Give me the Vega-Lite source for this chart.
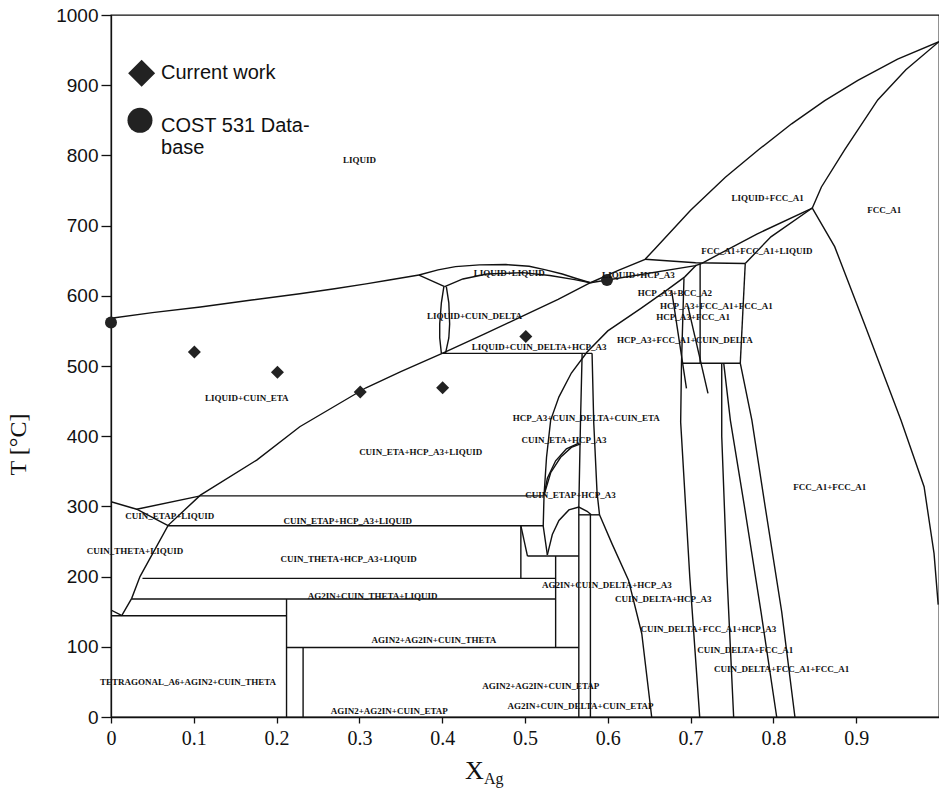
{
  "$schema": "https://vega.github.io/schema/vega-lite/v6.json",
  "width": 828,
  "height": 702,
  "autosize": {"type": "none"},
  "padding": {"left": 111, "top": 15, "right": 0, "bottom": 73},
  "background": "white",
  "config": {"view": {"stroke": "#111", "strokeWidth": 1.3}},
  "datasets": {
    "lines": [
      {"s":1,"o":0,"x":0,"t":568},{"s":1,"o":1,"x":0.05,"t":576},{"s":1,"o":2,"x":0.108,"t":584},{"s":1,"o":3,"x":0.17,"t":594},{"s":1,"o":4,"x":0.228,"t":603},{"s":1,"o":5,"x":0.27,"t":610},{"s":1,"o":6,"x":0.308,"t":617},{"s":1,"o":7,"x":0.336,"t":622.5},{"s":1,"o":8,"x":0.372,"t":629.6},
      {"s":2,"o":0,"x":0.372,"t":629.6},{"s":2,"o":1,"x":0.395,"t":637},{"s":2,"o":2,"x":0.416,"t":641.5},{"s":2,"o":3,"x":0.445,"t":644},{"s":2,"o":4,"x":0.477,"t":644.5},{"s":2,"o":5,"x":0.505,"t":642},{"s":2,"o":6,"x":0.525,"t":637},{"s":2,"o":7,"x":0.545,"t":631},{"s":2,"o":8,"x":0.561,"t":625},{"s":2,"o":9,"x":0.579,"t":618.6},
      {"s":3,"o":0,"x":0.372,"t":629.6},{"s":3,"o":1,"x":0.403,"t":613},
      {"s":4,"o":0,"x":0.403,"t":613},{"s":4,"o":1,"x":0.425,"t":624},{"s":4,"o":2,"x":0.454,"t":631},{"s":4,"o":3,"x":0.497,"t":633},{"s":4,"o":4,"x":0.53,"t":629},{"s":4,"o":5,"x":0.56,"t":623},{"s":4,"o":6,"x":0.579,"t":618.6},
      {"s":5,"o":0,"x":0.402,"t":613},{"s":5,"o":1,"x":0.399,"t":590},{"s":5,"o":2,"x":0.397,"t":560},{"s":5,"o":3,"x":0.397,"t":540},{"s":5,"o":4,"x":0.399,"t":518},
      {"s":6,"o":0,"x":0.405,"t":613},{"s":6,"o":1,"x":0.408,"t":590},{"s":6,"o":2,"x":0.409,"t":560},{"s":6,"o":3,"x":0.408,"t":540},{"s":6,"o":4,"x":0.404,"t":518},
      {"s":7,"o":0,"x":0.4,"t":518},{"s":7,"o":1,"x":0.45,"t":545},{"s":7,"o":2,"x":0.497,"t":571},{"s":7,"o":3,"x":0.54,"t":595},{"s":7,"o":4,"x":0.579,"t":618.6},
      {"s":8,"o":0,"x":0.4,"t":518},{"s":8,"o":1,"x":0.581,"t":518},
      {"s":9,"o":0,"x":0.4,"t":518},{"s":9,"o":1,"x":0.35,"t":492},{"s":9,"o":2,"x":0.308,"t":469},{"s":9,"o":3,"x":0.228,"t":413.5},{"s":9,"o":4,"x":0.176,"t":366},{"s":9,"o":5,"x":0.108,"t":316},{"s":9,"o":6,"x":0.069,"t":273},{"s":9,"o":7,"x":0.035,"t":200},{"s":9,"o":8,"x":0.025,"t":169},{"s":9,"o":9,"x":0.0133,"t":145},
      {"s":10,"o":0,"x":0.108,"t":315},{"s":10,"o":1,"x":0.523,"t":315},
      {"s":11,"o":0,"x":0.069,"t":272.5},{"s":11,"o":1,"x":0.522,"t":272.5},
      {"s":12,"o":0,"x":0,"t":306.7},{"s":12,"o":1,"x":0.031,"t":296},{"s":12,"o":2,"x":0.069,"t":272.5},
      {"s":13,"o":0,"x":0.031,"t":296},{"s":13,"o":1,"x":0.108,"t":315},
      {"s":14,"o":0,"x":0.038,"t":197.5},{"s":14,"o":1,"x":0.537,"t":197.5},
      {"s":15,"o":0,"x":0.025,"t":168},{"s":15,"o":1,"x":0.537,"t":168},
      {"s":16,"o":0,"x":0.495,"t":272.5},{"s":16,"o":1,"x":0.495,"t":197.5},
      {"s":17,"o":0,"x":0.495,"t":272.5},{"s":17,"o":1,"x":0.503,"t":229.3},
      {"s":18,"o":0,"x":0.503,"t":229.3},{"s":18,"o":1,"x":0.565,"t":229.3},
      {"s":19,"o":0,"x":0.537,"t":229.3},{"s":19,"o":1,"x":0.537,"t":99},
      {"s":20,"o":0,"x":0,"t":152.4},{"s":20,"o":1,"x":0.0133,"t":144.3},
      {"s":21,"o":0,"x":0,"t":144.3},{"s":21,"o":1,"x":0.212,"t":144.3},
      {"s":22,"o":0,"x":0.212,"t":0},{"s":22,"o":1,"x":0.212,"t":168},
      {"s":23,"o":0,"x":0.212,"t":99},{"s":23,"o":1,"x":0.565,"t":99},
      {"s":24,"o":0,"x":0.232,"t":0},{"s":24,"o":1,"x":0.232,"t":99},
      {"s":25,"o":0,"x":0.569,"t":518},{"s":25,"o":1,"x":0.567,"t":420},{"s":25,"o":2,"x":0.565,"t":300},{"s":25,"o":3,"x":0.565,"t":0},
      {"s":26,"o":0,"x":0.581,"t":518},{"s":26,"o":1,"x":0.583,"t":420},{"s":26,"o":2,"x":0.587,"t":320},{"s":26,"o":3,"x":0.59,"t":288},
      {"s":27,"o":0,"x":0.579,"t":288},{"s":27,"o":1,"x":0.579,"t":0},
      {"s":28,"o":0,"x":0.565,"t":288},{"s":28,"o":1,"x":0.59,"t":288},
      {"s":29,"o":0,"x":0.59,"t":288},{"s":29,"o":1,"x":0.605,"t":247},{"s":29,"o":2,"x":0.625,"t":195},{"s":29,"o":3,"x":0.641,"t":119},{"s":29,"o":4,"x":0.653,"t":0},
      {"s":30,"o":0,"x":0.527,"t":231},{"s":30,"o":1,"x":0.533,"t":260},{"s":30,"o":2,"x":0.541,"t":280},{"s":30,"o":3,"x":0.553,"t":295},{"s":30,"o":4,"x":0.565,"t":299},{"s":30,"o":5,"x":0.575,"t":293},{"s":30,"o":6,"x":0.58,"t":288},
      {"s":31,"o":0,"x":0.523,"t":316},{"s":31,"o":1,"x":0.527,"t":340},{"s":31,"o":2,"x":0.537,"t":365},{"s":31,"o":3,"x":0.55,"t":382},{"s":31,"o":4,"x":0.565,"t":390},
      {"s":32,"o":0,"x":0.523,"t":316},{"s":32,"o":1,"x":0.531,"t":348},{"s":32,"o":2,"x":0.543,"t":370},{"s":32,"o":3,"x":0.556,"t":384},{"s":32,"o":4,"x":0.567,"t":389},
      {"s":33,"o":0,"x":0.527,"t":231},{"s":33,"o":1,"x":0.522,"t":272},{"s":33,"o":2,"x":0.523,"t":316},{"s":33,"o":3,"x":0.526,"t":370},{"s":33,"o":4,"x":0.531,"t":423},{"s":33,"o":5,"x":0.541,"t":456},{"s":33,"o":6,"x":0.556,"t":490},{"s":33,"o":7,"x":0.575,"t":520},{"s":33,"o":8,"x":0.6,"t":550},{"s":33,"o":9,"x":0.64,"t":582},{"s":33,"o":10,"x":0.67,"t":607},{"s":33,"o":11,"x":0.693,"t":627},{"s":33,"o":12,"x":0.707,"t":644},
      {"s":34,"o":0,"x":0.579,"t":618.6},{"s":34,"o":1,"x":0.612,"t":636},{"s":34,"o":2,"x":0.645,"t":652},{"s":34,"o":3,"x":0.657,"t":667},{"s":34,"o":4,"x":0.7,"t":722},{"s":34,"o":5,"x":0.742,"t":769},{"s":34,"o":6,"x":0.782,"t":808},{"s":34,"o":7,"x":0.822,"t":845},{"s":34,"o":8,"x":0.862,"t":878},{"s":34,"o":9,"x":0.902,"t":907},{"s":34,"o":10,"x":0.95,"t":937},{"s":34,"o":11,"x":1.0,"t":962},
      {"s":35,"o":0,"x":1.0,"t":962},{"s":35,"o":1,"x":0.96,"t":922},{"s":35,"o":2,"x":0.926,"t":879},{"s":35,"o":3,"x":0.886,"t":808},{"s":35,"o":4,"x":0.858,"t":755},{"s":35,"o":5,"x":0.847,"t":725},
      {"s":36,"o":0,"x":0.847,"t":725},{"s":36,"o":1,"x":0.874,"t":670},{"s":36,"o":2,"x":0.91,"t":560},{"s":36,"o":3,"x":0.954,"t":423},{"s":36,"o":4,"x":0.982,"t":328},{"s":36,"o":5,"x":0.994,"t":233},{"s":36,"o":6,"x":0.999,"t":160},
      {"s":37,"o":0,"x":0.847,"t":725},{"s":37,"o":1,"x":0.78,"t":688},{"s":37,"o":2,"x":0.713,"t":646},
      {"s":38,"o":0,"x":0.847,"t":725},{"s":38,"o":1,"x":0.797,"t":684},{"s":38,"o":2,"x":0.766,"t":646},
      {"s":39,"o":0,"x":0.645,"t":652},{"s":39,"o":1,"x":0.706,"t":647},{"s":39,"o":2,"x":0.766,"t":646},
      {"s":40,"o":0,"x":0.579,"t":618.6},{"s":40,"o":1,"x":0.706,"t":643},{"s":40,"o":2,"x":0.713,"t":646},
      {"s":41,"o":0,"x":0.766,"t":646},{"s":41,"o":1,"x":0.76,"t":504},
      {"s":42,"o":0,"x":0.7115,"t":646},{"s":42,"o":1,"x":0.7115,"t":504},
      {"s":43,"o":0,"x":0.689,"t":504},{"s":43,"o":1,"x":0.76,"t":504},
      {"s":44,"o":0,"x":0.692,"t":625},{"s":44,"o":1,"x":0.689,"t":504},{"s":44,"o":2,"x":0.688,"t":420},{"s":44,"o":3,"x":0.699,"t":200},{"s":44,"o":4,"x":0.711,"t":0},
      {"s":45,"o":0,"x":0.677,"t":608},{"s":45,"o":1,"x":0.695,"t":468},
      {"s":46,"o":0,"x":0.697,"t":584},{"s":46,"o":1,"x":0.721,"t":461},
      {"s":47,"o":0,"x":0.7376,"t":504},{"s":47,"o":1,"x":0.7376,"t":400},{"s":47,"o":2,"x":0.744,"t":200},{"s":47,"o":3,"x":0.752,"t":0},
      {"s":48,"o":0,"x":0.74,"t":504},{"s":48,"o":1,"x":0.748,"t":423},{"s":48,"o":2,"x":0.765,"t":300},{"s":48,"o":3,"x":0.785,"t":150},{"s":48,"o":4,"x":0.804,"t":0},
      {"s":49,"o":0,"x":0.76,"t":504},{"s":49,"o":1,"x":0.774,"t":423},{"s":49,"o":2,"x":0.79,"t":300},{"s":49,"o":3,"x":0.81,"t":150},{"s":49,"o":4,"x":0.826,"t":0}
    ],
    "current": [
      {"x":0.1007,"t":520},{"x":0.201,"t":491},{"x":0.301,"t":463},{"x":0.4005,"t":469},{"x":0.501,"t":542}
    ],
    "cost": [
      {"x":0,"t":562},{"x":0.599,"t":622.5}
    ],
    "legendDiamond": [{"x":0.037,"t":917}],
    "legendCircle": [{"x":0.035,"t":850}],
    "legendText": [
      {"x":0.0604,"t":917,"label":"Current work"},
      {"x":0.0604,"t":842,"label":"COST 531 Data-"},
      {"x":0.0604,"t":810,"label":"base"}
    ],
    "phases": [
      {"x":0.3,"t":794,"label":"LIQUID"},
      {"x":0.793,"t":740,"label":"LIQUID+FCC_A1"},
      {"x":0.934,"t":722,"label":"FCC_A1"},
      {"x":0.78,"t":664,"label":"FCC_A1+FCC_A1+LIQUID"},
      {"x":0.481,"t":633,"label":"LIQUID+LIQUID"},
      {"x":0.637,"t":630,"label":"LIQUID+HCP_A3"},
      {"x":0.681,"t":604,"label":"HCP_A3+BCC_A2"},
      {"x":0.731,"t":586,"label":"HCP_A3+FCC_A1+FCC_A1"},
      {"x":0.703,"t":570,"label":"HCP_A3+FCC_A1"},
      {"x":0.439,"t":571,"label":"LIQUID+CUIN_DELTA"},
      {"x":0.693,"t":537,"label":"HCP_A3+FCC_A1+CUIN_DELTA"},
      {"x":0.517,"t":527,"label":"LIQUID+CUIN_DELTA+HCP_A3"},
      {"x":0.164,"t":454,"label":"LIQUID+CUIN_ETA"},
      {"x":0.574,"t":426,"label":"HCP_A3+CUIN_DELTA+CUIN_ETA"},
      {"x":0.547,"t":394,"label":"CUIN_ETA+HCP_A3"},
      {"x":0.374,"t":378,"label":"CUIN_ETA+HCP_A3+LIQUID"},
      {"x":0.868,"t":327,"label":"FCC_A1+FCC_A1"},
      {"x":0.555,"t":316,"label":"CUIN_ETAP+HCP_A3"},
      {"x":0.071,"t":286,"label":"CUIN_ETAP+LIQUID"},
      {"x":0.286,"t":279,"label":"CUIN_ETAP+HCP_A3+LIQUID"},
      {"x":0.029,"t":236,"label":"CUIN_THETA+LIQUID"},
      {"x":0.287,"t":225.5,"label":"CUIN_THETA+HCP_A3+LIQUID"},
      {"x":0.599,"t":188,"label":"AG2IN+CUIN_DELTA+HCP_A3"},
      {"x":0.316,"t":173,"label":"AG2IN+CUIN_THETA+LIQUID"},
      {"x":0.667,"t":168,"label":"CUIN_DELTA+HCP_A3"},
      {"x":0.7215,"t":125,"label":"CUIN_DELTA+FCC_A1+HCP_A3"},
      {"x":0.39,"t":110,"label":"AGIN2+AG2IN+CUIN_THETA"},
      {"x":0.766,"t":95,"label":"CUIN_DELTA+FCC_A1"},
      {"x":0.81,"t":69,"label":"CUIN_DELTA+FCC_A1+FCC_A1"},
      {"x":0.093,"t":50,"label":"TETRAGONAL_A6+AGIN2+CUIN_THETA"},
      {"x":0.519,"t":44,"label":"AGIN2+AG2IN+CUIN_ETAP"},
      {"x":0.567,"t":16,"label":"AG2IN+CUIN_DELTA+CUIN_ETAP"},
      {"x":0.336,"t":9,"label":"AGIN2+AG2IN+CUIN_ETAP"}
    ],
    "xtitle": [{"x":0.4275,"t":-88,"label":"X"}],
    "xsub": [{"x":0.4505,"t":-96,"label":"Ag"}]
  },
  "layer": [
    {
      "data": {"name": "lines"},
      "mark": {"type": "line", "color": "#111", "strokeWidth": 1.4, "clip": true},
      "encoding": {
        "x": {
          "field": "x", "type": "quantitative",
          "scale": {"domain": [0, 1], "nice": false, "zero": false},
          "axis": {
            "title": null, "values": [0, 0.1, 0.2, 0.3, 0.4, 0.5, 0.6, 0.7, 0.8, 0.9],
            "format": ".1~f", "grid": false, "tickSize": 6, "tickWidth": 1.3, "tickColor": "#111", "domainColor": "#111", "domainWidth": 1.3,
            "labelFont": "Liberation Sans Narrow", "labelFontSize": 20, "labelColor": "#111",
            "labelPadding": 5, "labelFlush": false
          }
        },
        "y": {
          "field": "t", "type": "quantitative",
          "scale": {"domain": [0, 1000], "nice": false},
          "axis": {
            "title": "T [°C]", "titleFont": "Liberation Serif", "titleFontSize": 24, "titleFontWeight": "normal",
            "titleColor": "#111", "titleAngle": 270, "titleAlign": "center", "titleBaseline": "middle",
            "titleX": -93, "titleY": 429,
            "values": [0, 100, 200, 300, 400, 500, 600, 700, 800, 900, 1000],
            "format": "d",
            "grid": false, "tickSize": 10, "tickWidth": 1.3, "tickColor": "#111", "domainColor": "#111", "domainWidth": 1.3,
            "labelFont": "Liberation Sans", "labelFontSize": 19, "labelColor": "#111", "labelPadding": 3
          }
        },
        "detail": {"field": "s"},
        "order": {"field": "o"}
      }
    },
    {
      "data": {"name": "current"},
      "mark": {"type": "point", "shape": "diamond", "filled": true, "size": 169, "color": "#222", "opacity": 1, "clip": false},
      "encoding": {"x": {"field": "x", "type": "quantitative"}, "y": {"field": "t", "type": "quantitative"}}
    },
    {
      "data": {"name": "cost"},
      "mark": {"type": "point", "shape": "circle", "filled": true, "size": 144, "color": "#222", "opacity": 1, "clip": false},
      "encoding": {"x": {"field": "x", "type": "quantitative"}, "y": {"field": "t", "type": "quantitative"}}
    },
    {
      "data": {"name": "legendDiamond"},
      "mark": {"type": "point", "shape": "diamond", "filled": true, "size": 729, "color": "#222", "opacity": 1, "clip": false},
      "encoding": {"x": {"field": "x", "type": "quantitative"}, "y": {"field": "t", "type": "quantitative"}}
    },
    {
      "data": {"name": "legendCircle"},
      "mark": {"type": "point", "shape": "circle", "filled": true, "size": 625, "color": "#222", "opacity": 1, "clip": false},
      "encoding": {"x": {"field": "x", "type": "quantitative"}, "y": {"field": "t", "type": "quantitative"}}
    },
    {
      "data": {"name": "legendText"},
      "mark": {"type": "text", "align": "left", "baseline": "middle", "font": "Liberation Sans", "fontSize": 20, "color": "#111"},
      "encoding": {"x": {"field": "x", "type": "quantitative"}, "y": {"field": "t", "type": "quantitative"}, "text": {"field": "label"}}
    },
    {
      "data": {"name": "phases"},
      "mark": {"type": "text", "align": "center", "baseline": "middle", "font": "Liberation Serif", "fontWeight": "bold", "fontSize": 9, "color": "#111"},
      "encoding": {"x": {"field": "x", "type": "quantitative"}, "y": {"field": "t", "type": "quantitative"}, "text": {"field": "label"}}
    },
    {
      "data": {"name": "xtitle"},
      "mark": {"type": "text", "align": "left", "baseline": "alphabetic", "font": "Liberation Serif", "fontSize": 26, "color": "#111"},
      "encoding": {"x": {"field": "x", "type": "quantitative"}, "y": {"field": "t", "type": "quantitative"}, "text": {"field": "label"}}
    },
    {
      "data": {"name": "xsub"},
      "mark": {"type": "text", "align": "left", "baseline": "alphabetic", "font": "Liberation Serif", "fontSize": 16, "color": "#111"},
      "encoding": {"x": {"field": "x", "type": "quantitative"}, "y": {"field": "t", "type": "quantitative"}, "text": {"field": "label"}}
    }
  ]
}
